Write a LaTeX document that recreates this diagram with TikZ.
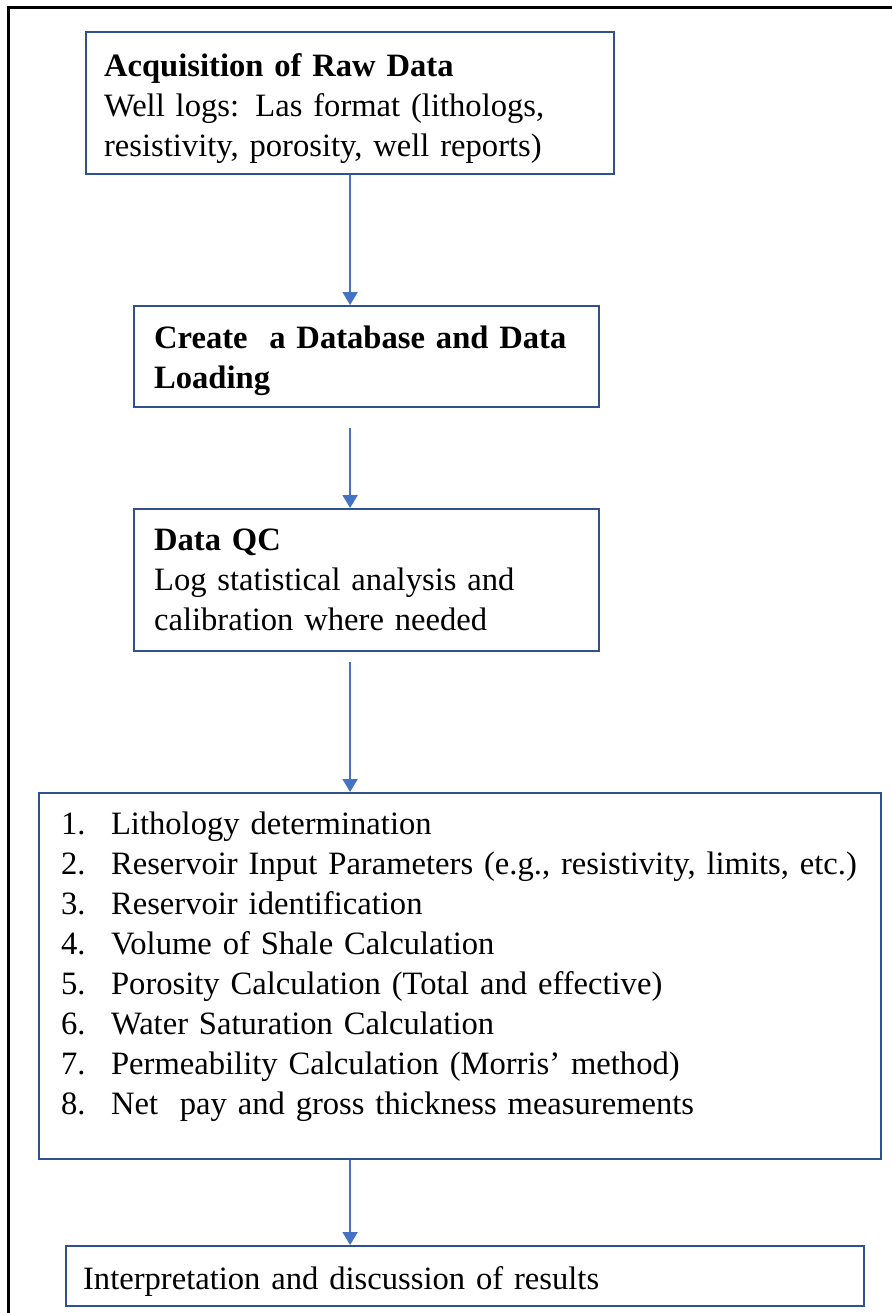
\documentclass[tikz,border=0pt]{standalone}
\usepackage{fontspec}
\setmainfont{Liberation Serif}
\usepackage{tikz}
\usetikzlibrary{arrows.meta}

\definecolor{boxblue}{HTML}{2F528F}
\definecolor{arrowblue}{HTML}{4472C4}

\newcommand{\itm}[1]{\makebox[25pt][l]{#1}}

\begin{document}
\begin{tikzpicture}[x=.5pt,y=-.5pt,
    stage/.style={draw=boxblue, line width=1.1pt, anchor=north west, align=left,
        inner xsep=9pt, inner ysep=0pt, font=\fontsize{16.3}{20}\selectfont},
    flow/.style={draw=arrowblue, line width=1pt, -{Triangle[width=7.5pt,length=6.5pt]}}]
        \useasboundingbox (0,0) rectangle (891,1313);
        % Frame:
        \draw[line width=1.5pt] (8,1330) -- (8,7) -- (900,7);

        % Boxes:
        \node[stage, minimum width=264pt, minimum height=71pt, text width=246pt] (acq) at (85,31)
            {\rule{0pt}{16.5pt}\textbf{Acquisition of Raw Data}\\Well logs: Las format (lithologs,\\resistivity, porosity, well reports)};
        \node[stage, minimum width=232.5pt, minimum height=50.5pt, text width=214.5pt] (db) at (133,305)
            {\rule{0pt}{15.6pt}\hspace*{1pt}\textbf{Create\ \ a Database and Data}\\\hspace*{1pt}\textbf{Loading}};
        \node[stage, minimum width=232.5pt, minimum height=71pt, text width=212.5pt, inner xsep=10pt] (qc) at (133,508)
            {\textbf{Data QC}\\Log statistical analysis and\\calibration where needed};
        \node[stage, minimum width=421pt, minimum height=183pt, text width=399pt, inner xsep=11pt] (calc) at (38,792)
            {\itm{1.}Lithology determination\\
             \itm{2.}Reservoir Input Parameters (e.g., resistivity, limits, etc.)\\
             \itm{3.}Reservoir identification\\
             \itm{4.}Volume of Shale Calculation\\
             \itm{5.}Porosity Calculation (Total and effective)\\
             \itm{6.}Water Saturation Calculation\\
             \itm{7.}Permeability Calculation (Morris' method)\\
             \itm{8.}Net\ \ pay and gross thickness measurements\rule[-13pt]{0pt}{1pt}};
        \node[stage, minimum width=399pt, minimum height=30pt, text width=382pt, inner xsep=8.5pt] (res) at (65,1245)
            {\rule{0pt}{17pt}Interpretation and discussion of results};

        % Arrows:
        \draw[flow] (acq.south) -- (acq.south |- db.north);
        \draw[flow] (acq.south |- db.south) ++(0,20) -- (acq.south |- qc.north);
        \draw[flow] (acq.south |- qc.south) ++(0,10) -- (acq.south |- calc.north);
        \draw[flow] (acq.south |- calc.south) -- (acq.south |- res.north);
    \end{tikzpicture}
\end{document}
